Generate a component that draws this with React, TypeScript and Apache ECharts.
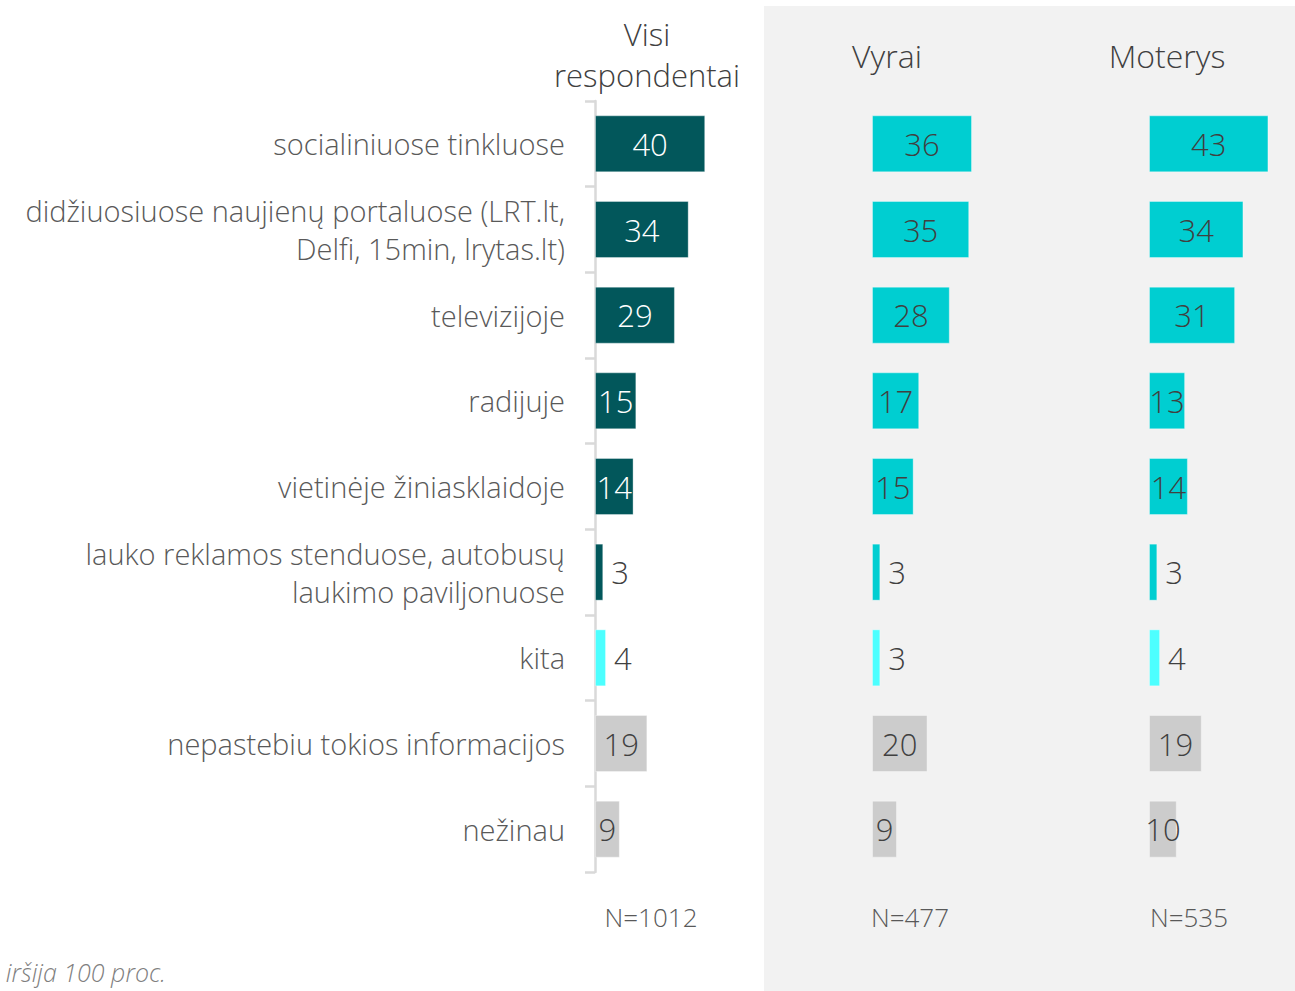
import React, { useEffect, useRef } from "react";
import * as echarts from "echarts";

const categories = [
  "socialiniuose tinkluose",
  "didžiuosiuose naujienų portaluose (LRT.lt,\nDelfi, 15min, lrytas.lt)",
  "televizijoje",
  "radijuje",
  "vietinėje žiniasklaidoje",
  "lauko reklamos stenduose, autobusų\nlaukimo paviljonuose",
  "kita",
  "nepastebiu tokios informacijos",
  "nežinau",
];
const allValues = [40, 34, 29, 15, 14, 3, 4, 19, 9];
const menValues = [36, 35, 28, 17, 15, 3, 3, 20, 9];
const womenValues = [43, 34, 31, 13, 14, 3, 4, 19, 10];
const panelTitleLines = [["Visi", "respondentai"], ["Vyrai"], ["Moterys"]];
const sampleSizes = ["N=1012", "N=477", "N=535"];
const footnote = "iršija 100 proc.";

const FONT = "'Open Sans', 'Noto Sans', sans-serif";
const DARK = "#02575B";
const CYAN = "#00CED1";
const LIGHT = "#4DFFFF";
const GREY = "#CCCCCC";

function colorFor(panel: number, idx: number) {
  if (idx === 6) return LIGHT;
  if (idx >= 7) return GREY;
  return panel === 0 ? DARK : CYAN;
}

export default function App() {
  const ref = useRef<HTMLDivElement>(null);
  useEffect(() => {
    document.body.style.margin = "0";
    const chart = echarts.init(ref.current!, null, { renderer: "svg" });
    const lefts = [595, 872, 1149];
    const widths = [124, 125, 125];
    const MAX = 45;
    const panels = [allValues, menValues, womenValues];

    const grids = lefts.map((l, i) => ({ left: l, top: 101, width: widths[i], height: 771 }));
    const xAxes = lefts.map((_, i) => ({
      type: "value",
      gridIndex: i,
      min: 0,
      max: MAX,
      show: false,
    }));
    const yAxes = lefts.map((_, i) => ({
      type: "category",
      gridIndex: i,
      data: categories,
      inverse: true,
      show: i === 0,
      axisLine: { show: i === 0, lineStyle: { color: "#D9D9D9", width: 2.5 } },
      axisTick: { show: i === 0, length: 10, lineStyle: { color: "#D9D9D9", width: 2.5 } },
      axisLabel: {
        show: i === 0,
        margin: 30,
        fontSize: 29,
        fontWeight: 300,
        fontFamily: FONT,
        color: "#595959",
        lineHeight: 38,
        align: "right",
      },
    }));
    const series = panels.map((vals, p) => ({
      type: "bar",
      xAxisIndex: p,
      yAxisIndex: p,
      barWidth: 57,
      data: vals.map((v, i) => {
        const inside = v >= 9;
        return {
          value: v,
          itemStyle: {
            color: colorFor(p, i),
            borderColor: "rgba(255,255,255,0.35)",
            borderWidth: 1,
          },
          label: {
            show: true,
            position: inside ? "inside" : "right",
            distance: 8,
            fontSize: 31,
            fontWeight: 300,
            fontFamily: FONT,
            color: inside && p === 0 && i < 6 ? "#FFFFFF" : "#404040",
          },
        };
      }),
    }));

    const titleX = [647, 887, 1167];
    const nX = [651, 910, 1189];

    const graphic: any[] = [
      {
        type: "rect",
        z: -10,
        shape: { x: 764, y: 6, width: 531, height: 985 },
        style: { fill: "#F2F2F2" },
        silent: true,
      },
    ];
    panelTitleLines.forEach((lines, i) => {
      lines.forEach((t, j) => {
        const y = lines.length === 2 ? (j === 0 ? 34 : 75) : 55;
        graphic.push({
          type: "text",
          x: titleX[i],
          y,
          style: {
            text: t,
            fontSize: lines.length === 2 ? 31 : 32,
            fontWeight: 300,
            fontFamily: FONT,
            fill: "#404040",
            align: "center",
            verticalAlign: "middle",
          },
        });
      });
    });
    sampleSizes.forEach((t, i) => {
      graphic.push({
        type: "text",
        x: nX[i],
        y: 917,
        style: {
          text: t,
          fontSize: 26,
          fontWeight: 300,
          fontFamily: FONT,
          fill: "#595959",
          align: "center",
          verticalAlign: "middle",
        },
      });
    });
    graphic.push({
      type: "text",
      x: 166,
      y: 972,
      style: {
        text: footnote,
        fontSize: 25,
        fontStyle: "italic",
        fontWeight: 300,
        fontFamily: FONT,
        fill: "#7F7F7F",
        align: "right",
        verticalAlign: "middle",
      },
    });

    chart.setOption({
      animation: false,
      backgroundColor: "#FFFFFF",
      grid: grids,
      xAxis: xAxes,
      yAxis: yAxes,
      series,
      graphic,
    });
    return () => chart.dispose();
  }, []);
  return <div ref={ref} style={{ width: 1295, height: 991 }} />;
}
